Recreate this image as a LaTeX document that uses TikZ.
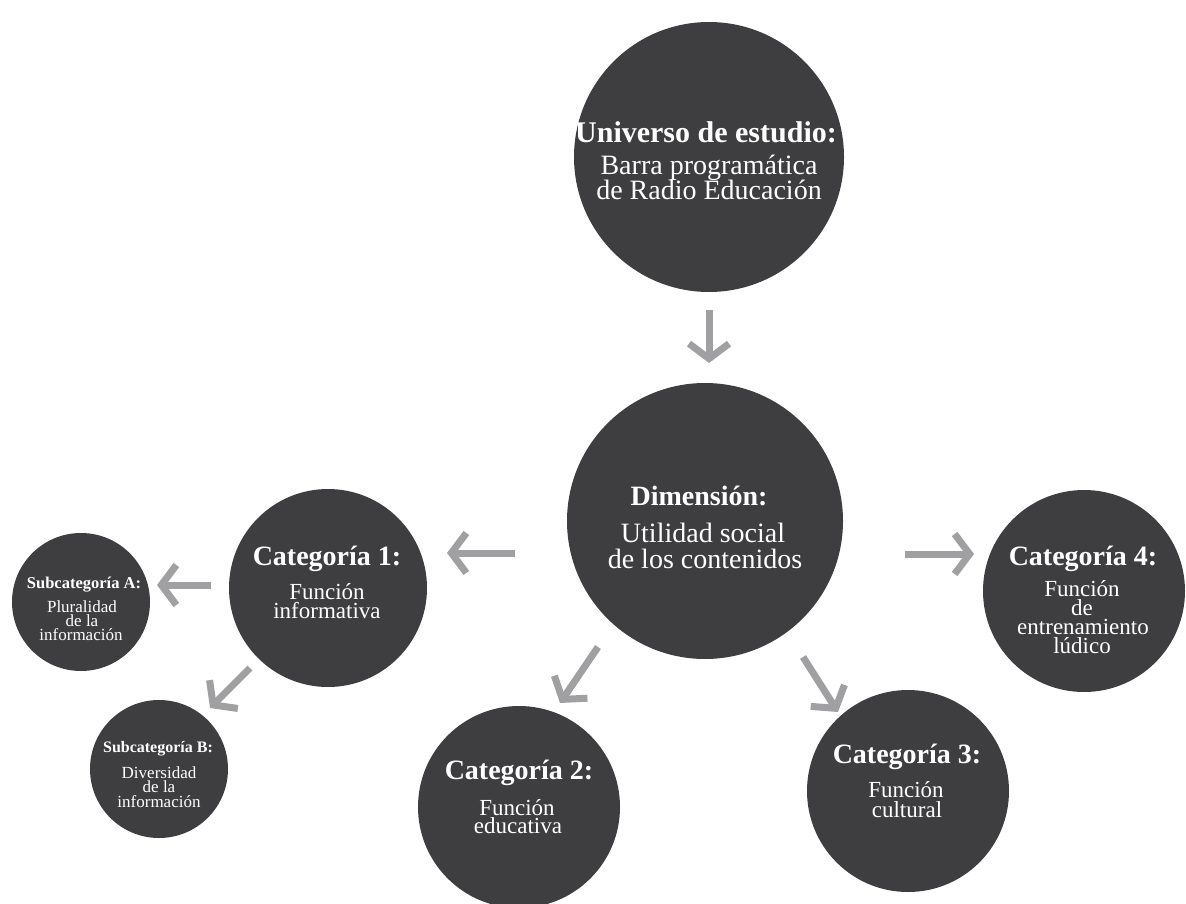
\documentclass[tikz,border=0pt]{standalone}
\usepackage{fontspec}
\setmainfont{Liberation Serif}
\usetikzlibrary{arrows.meta}
\definecolor{circ}{RGB}{62,62,64}
\definecolor{arrg}{RGB}{160,160,162}
\begin{document}
\begin{tikzpicture}[x=1pt,y=-1pt,
  bub/.style={circle, fill=circ, inner sep=0pt, draw=none},
  hd/.style={text=white, inner sep=0pt, anchor=base, font=\bfseries\fontsize{#1}{#1}\selectfont},
  tx/.style={text=white, inner sep=0pt, anchor=base, font=\fontsize{#1}{#1}\selectfont},
  arr/.style={draw=arrg, line width=7pt, -{Straight Barb[length=15pt,width=40pt]}}
]
\useasboundingbox (0,0) rectangle (1186,904);
% circles
\node[bub, minimum size=270pt] (uni) at (709,157) {};
\node[bub, minimum size=276pt] (dim) at (705,521) {};
\node[bub, minimum size=198pt] (c1) at (328,588) {};
\node[bub, minimum size=202pt] (c2) at (519,807) {};
\node[bub, minimum size=202pt] (c3) at (908,791) {};
\node[bub, minimum size=202pt] (c4) at (1084,591) {};
\node[bub, minimum size=138pt] (sa) at (81,602) {};
\node[bub, minimum size=138pt] (sb) at (159,769) {};
% texts
\node[hd=30] (uni1) at (706,143) {Universo de estudio:};
\node[tx=28] (uni2) at (709,175) {Barra programática};
\node[tx=28] (uni3) at (709,200) {de Radio Educación};
\node[hd=28] (dim1) at (699,505) {Dimensión:};
\node[tx=28] (dim2) at (703,542) {Utilidad social};
\node[tx=28] (dim3) at (705,568) {de los contenidos};
\node[hd=28] (c1a) at (327,565) {Categoría 1:};
\node[tx=23] (c1b) at (327,599) {Función};
\node[tx=23] (c1c) at (327,618) {informativa};
\node[hd=28] (c2a) at (519,779) {Categoría 2:};
\node[tx=23] (c2b) at (517,815) {Función};
\node[tx=23] (c2c) at (518,833) {educativa};
\node[hd=28] (c3a) at (907,763) {Categoría 3:};
\node[tx=23] (c3b) at (906,797) {Función};
\node[tx=23] (c3c) at (907,817) {cultural};
\node[hd=28] (c4a) at (1083,565) {Categoría 4:};
\node[tx=23] (c4b) at (1082,596) {Función};
\node[tx=23] (c4c) at (1082,615) {de};
\node[tx=23] (c4d) at (1083,634) {entrenamiento};
\node[tx=23] (c4e) at (1082,653) {lúdico};
\node[hd=16.5] (saa) at (84,588) {Subcategoría A:};
\node[tx=17] (sab) at (82,612) {Pluralidad};
\node[tx=17] (sac) at (82,626) {de la};
\node[tx=17] (sad) at (81,640) {información};
\node[hd=16] (sba) at (158,752) {Subcategoría B:};
\node[tx=17] (sbb) at (159,778) {Diversidad};
\node[tx=17] (sbc) at (159,792) {de la};
\node[tx=17] (sbd) at (159,807) {información};
% arrow ends
\coordinate (a0s) at (709,310); \coordinate (a0e) at (709,363);
\coordinate (a1s) at (515,553); \coordinate (a1e) at (447,553);
\coordinate (a4s) at (905,554); \coordinate (a4e) at (974,554);
\coordinate (a2s) at (598,647); \coordinate (a2e) at (560,703);
\coordinate (a3s) at (803,657); \coordinate (a3e) at (838,712);
\coordinate (aas) at (211,585); \coordinate (aae) at (157,585);
\coordinate (abs) at (250,668); \coordinate (abe) at (210,708);
\draw[arr] (a0s) -- (a0e);
\draw[arr] (a1s) -- (a1e);
\draw[arr] (a4s) -- (a4e);
\draw[arr] (a2s) -- (a2e);
\draw[arr] (a3s) -- (a3e);
\draw[arr] (aas) -- (aae);
\draw[arr] (abs) -- (abe);
\end{tikzpicture}
\end{document}
